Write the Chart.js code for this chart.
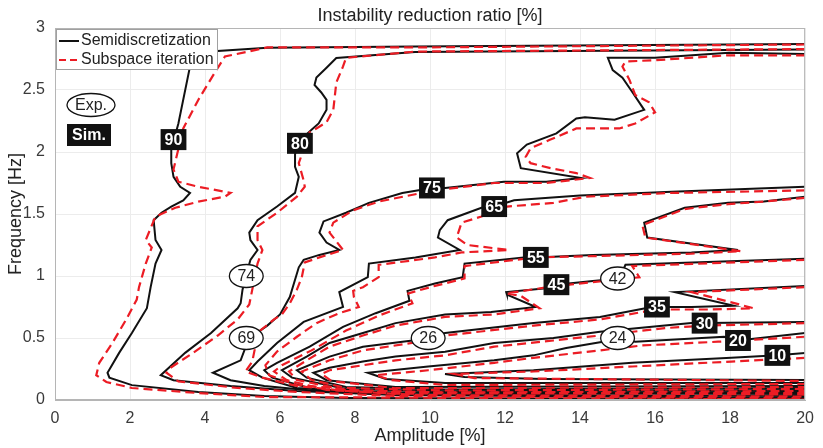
<!DOCTYPE html>
<html>
<head>
<meta charset="utf-8">
<script src="https://cdn.jsdelivr.net/npm/chart.js@4"></script>
<style>
  html, body { margin: 0; padding: 0; background: #fff; }
  #wrap { width: 823px; height: 448px; }
</style>
</head>
<body>
<div id="wrap"><canvas id="chart" width="823" height="448"></canvas></div>
<script>
// contour lines, [amplitude %, frequency Hz]
var levels = ["90", "80", "75", "65", "55", "45", "35", "30", "20", "10"];

var semi90 = [[20,2.87],[9.6,2.85],[5.66,2.84],[3.63,2.8],[3.6,2.69],[3.29,2.23],[3.1,2.02],[3.1,1.91],[3.16,1.8],[3.34,1.72],[3.6,1.67],[3.42,1.61],[3.1,1.56],[2.84,1.51],[2.63,1.45],[2.68,1.29],[2.84,1.21],[2.68,1.1],[2.55,0.91],[2.45,0.74],[2.05,0.54],[1.71,0.38],[1.4,0.22],[1.45,0.18],[2.05,0.12],[3.82,0.065],[5.58,0.032],[7.76,0.016],[20,0.006]];
var sub90 = [[20,2.867],[9.6,2.843],[5.66,2.843],[4.53,2.77],[4.26,2.64],[3.82,2.42],[3.42,2.19],[3.16,1.86],[3.29,1.76],[3.82,1.72],[4.68,1.67],[4.53,1.64],[3.82,1.6],[3.21,1.55],[2.68,1.48],[2.42,1.29],[2.58,1.23],[2.42,1.1],[2.24,0.91],[2.18,0.81],[1.9,0.65],[1.53,0.46],[1.18,0.3],[1.1,0.2],[1.37,0.145],[2.05,0.097],[3.82,0.056],[5.58,0.024],[20,0.004]];

var semi80 = [[20,2.826],[9.6,2.806],[7.5,2.758],[7.24,2.68],[6.97,2.6],[6.92,2.54],[7.1,2.48],[7.24,2.42],[7.24,2.34],[7.03,2.23],[6.84,2.18],[6.45,2.07],[6.4,1.98],[6.4,1.88],[6.5,1.8],[6.4,1.67],[5.92,1.56],[5.4,1.45],[5.18,1.35],[5.21,1.29],[5.4,1.21],[5.21,1.13],[5.08,0.99],[5.0,0.89],[4.95,0.78],[4.87,0.74],[4.16,0.54],[3.47,0.38],[2.82,0.2],[3.16,0.16],[4.68,0.113],[6.45,0.073],[9.08,0.04],[20,0.016]];
var sub80 = [[20,2.83],[9.6,2.81],[7.76,2.76],[7.68,2.69],[7.5,2.56],[7.45,2.42],[7.42,2.34],[7.24,2.24],[6.97,2.19],[6.79,2.16],[6.5,1.91],[6.63,1.77],[6.66,1.72],[6.45,1.64],[5.92,1.51],[5.4,1.4],[5.4,1.29],[5.53,1.21],[5.4,1.1],[5.26,0.89],[5.18,0.77],[4.87,0.65],[4.34,0.52],[3.68,0.38],[3.08,0.26],[2.97,0.22],[3.29,0.15],[4.87,0.097],[6.45,0.065],[9.08,0.032],[20,0.014]];

var semi75 = [[20,2.79],[17.97,2.8],[16.0,2.76],[14.74,2.76],[14.87,2.66],[15.13,2.6],[15.4,2.48],[15.71,2.34],[14.92,2.26],[14.13,2.28],[13.9,2.27],[13.37,2.15],[12.58,2.06],[12.32,1.99],[12.42,1.87],[14.03,1.79],[13.1,1.76],[11.97,1.76],[10.4,1.71],[10.05,1.71],[9.26,1.67],[8.37,1.59],[7.76,1.51],[7.16,1.44],[7.05,1.35],[7.24,1.27],[7.58,1.21],[7.05,1.17],[6.63,1.13],[6.5,1.07],[6.4,0.97],[6.26,0.83],[6.0,0.69],[5.66,0.6],[5.47,0.56],[5.08,0.51],[5.05,0.4],[4.95,0.32],[4.21,0.22],[4.68,0.16],[5.58,0.113],[6.97,0.073],[9.08,0.045],[20,0.032]];
var sub75 = [[20,2.78],[17.95,2.78],[16.0,2.74],[15.21,2.73],[15.13,2.69],[15.32,2.58],[15.47,2.46],[15.84,2.4],[16.0,2.32],[15.47,2.23],[15.05,2.19],[14.42,2.19],[13.9,2.19],[13.21,2.1],[12.68,2.03],[12.55,1.96],[12.68,1.91],[13.21,1.87],[13.9,1.83],[14.26,1.79],[13.1,1.75],[11.71,1.75],[10.4,1.7],[9.95,1.68],[8.63,1.6],[7.95,1.53],[7.42,1.43],[7.32,1.35],[7.68,1.21],[7.05,1.15],[6.66,1.11],[6.58,0.99],[6.45,0.89],[6.26,0.78],[6.05,0.69],[5.84,0.65],[5.47,0.56],[5.32,0.4],[5.26,0.31],[5.08,0.23],[5.53,0.18],[6.45,0.113],[7.76,0.073],[9.61,0.04],[20,0.028]];

var semi65 = [[20,1.72],[16.45,1.68],[14.0,1.65],[12.24,1.61],[11.71,1.56],[11.37,1.55],[10.47,1.45],[10.26,1.37],[10.21,1.31],[10.79,1.21],[9.61,1.15],[8.37,1.1],[8.34,0.99],[7.58,0.87],[7.68,0.75],[6.63,0.63],[5.92,0.46],[5.4,0.31],[5.18,0.24],[5.53,0.18],[6.45,0.097],[8.55,0.06],[20,0.048]];
var sub65 = [[20,1.69],[16.45,1.67],[14.16,1.64],[13.29,1.59],[12.05,1.56],[11.37,1.48],[10.84,1.43],[10.71,1.31],[11.0,1.25],[12.1,1.21],[10.84,1.19],[10.13,1.15],[8.63,1.09],[8.63,0.99],[8.21,0.91],[7.95,0.88],[7.97,0.83],[8.1,0.75],[7.58,0.7],[6.97,0.62],[6.45,0.51],[5.92,0.39],[5.61,0.28],[5.71,0.2],[6.45,0.121],[8.55,0.065],[20,0.044]];

var semi55 = [[20,1.64],[18.9,1.6],[17.95,1.59],[16.79,1.55],[15.71,1.43],[15.79,1.31],[18.21,1.21],[16.97,1.19],[14.34,1.17],[12.82,1.15],[12.5,1.15],[10.92,1.1],[10.87,0.99],[10.13,0.94],[9.4,0.88],[9.45,0.8],[8.55,0.7],[7.68,0.59],[6.79,0.43],[5.92,0.3],[5.58,0.24],[5.79,0.18],[6.97,0.081],[9.08,0.06],[20,0.065]];
var sub55 = [[20,1.63],[18.9,1.6],[17.95,1.58],[16.79,1.54],[15.66,1.41],[15.74,1.31],[18.29,1.2],[16.97,1.18],[14.34,1.16],[12.82,1.15],[10.92,1.08],[10.92,0.98],[10.13,0.92],[9.42,0.86],[9.53,0.78],[8.63,0.68],[7.76,0.56],[6.84,0.4],[6.05,0.28],[5.84,0.23],[6.18,0.16],[7.24,0.081],[9.08,0.052],[20,0.056]];

var semi45 = [[20,1.14],[15.21,1.09],[15.05,0.98],[14.34,0.96],[13.37,0.93],[13.03,0.9],[12.03,0.87],[12.05,0.85],[12.82,0.75],[11.63,0.71],[10.4,0.69],[9.08,0.62],[8.21,0.54],[7.32,0.46],[6.71,0.35],[6.05,0.24],[6.32,0.18],[7.76,0.089],[10.4,0.07],[20,0.081]];
var sub45 = [[20,1.13],[15.39,1.08],[15.58,0.99],[14.34,0.95],[13.37,0.92],[12.03,0.86],[12.42,0.84],[12.92,0.74],[11.71,0.69],[10.4,0.67],[9.08,0.6],[8.21,0.52],[7.32,0.43],[6.71,0.32],[6.24,0.23],[6.45,0.161],[7.76,0.081],[10.4,0.06],[20,0.073]];

var semi35 = [[20,0.92],[16.53,0.87],[18.1,0.76],[16.97,0.75],[16.05,0.75],[15.74,0.74],[14.53,0.67],[12.76,0.62],[10.4,0.54],[9.95,0.5],[9.53,0.48],[8.21,0.43],[7.32,0.35],[6.45,0.24],[6.71,0.18],[7.76,0.105],[10.4,0.085],[20,0.097]];
var sub35 = [[20,0.91],[16.97,0.87],[17.24,0.85],[18.63,0.74],[17.5,0.73],[16.05,0.73],[14.53,0.65],[12.76,0.6],[10.4,0.52],[9.95,0.48],[8.21,0.4],[7.32,0.32],[6.58,0.23],[6.84,0.161],[7.76,0.097],[10.4,0.077],[20,0.089]];

var semi30 = [[20,0.63],[17.32,0.62],[16.97,0.62],[16.26,0.6],[14.53,0.55],[13.29,0.5],[11.71,0.46],[10.4,0.39],[9.08,0.35],[8.21,0.31],[7.32,0.26],[6.89,0.22],[7.24,0.16],[9.08,0.105],[20,0.113]];
var sub30 = [[20,0.62],[17.32,0.6],[16.26,0.58],[14.53,0.52],[13.29,0.48],[11.71,0.43],[10.4,0.36],[9.08,0.32],[8.21,0.28],[7.32,0.24],[7.11,0.21],[7.37,0.153],[9.08,0.095],[20,0.105]];

var semi20 = [[20,0.54],[18.21,0.48],[17.84,0.51],[15.47,0.47],[15.03,0.5],[14.61,0.47],[13.63,0.42],[12.76,0.36],[11.71,0.32],[9.95,0.27],[8.34,0.22],[8.82,0.169],[10.4,0.137],[20,0.137]];
var sub20 = [[20,0.51],[17.68,0.47],[15.66,0.44],[14.53,0.4],[12.76,0.34],[11.71,0.3],[9.95,0.24],[8.55,0.2],[8.95,0.161],[10.4,0.121],[20,0.129]];

var semi10 = [[20,0.38],[19.26,0.36],[18.03,0.34],[15.39,0.3],[12.76,0.24],[10.4,0.21],[10.92,0.185],[13.03,0.169],[20,0.161]];
var sub10 = [[20,0.34],[18.03,0.31],[15.39,0.27],[12.76,0.23],[10.66,0.21],[11.18,0.177],[20,0.153]];

var semiLines = [semi90, semi80, semi75, semi65, semi55, semi45, semi35, semi30, semi20, semi10];
var subLines = [sub90, sub80, sub75, sub65, sub55, sub45, sub35, sub30, sub20, sub10];

// inline labels: simulation (black boxes) and experiment (ellipses)
var simText = ["90", "80", "75", "65", "55", "45", "35", "30", "20", "10"];
var simX = [3.16, 6.53, 10.05, 11.71, 12.82, 13.37, 16.05, 17.32, 18.21, 19.26];
var simY = [2.1, 2.07, 1.71, 1.56, 1.15, 0.93, 0.75, 0.62, 0.48, 0.36];
var expText = ["74", "69", "26", "42", "24"];
var expX = [5.1, 5.1, 9.95, 15.0, 15.0];
var expY = [1.0, 0.5, 0.5, 0.98, 0.5];

var xTicks = [0, 2, 4, 6, 8, 10, 12, 14, 16, 18, 20];
var yTicks = [0, 0.5, 1, 1.5, 2, 2.5, 3];

var FONT = "'Liberation Sans', Arial, Helvetica, sans-serif";
var TEXT = "#3a3a3a";
var BLACK = "#111111";
var RED = "#ec1c24";

function toPoints(pairs) {
  return pairs.map(function (p) {
    return { x: p[0], y: p[1] };
  });
}

function buildDatasets() {
  var sets = [];
  for (var i = 0; i < levels.length; i++) {
    sets.push({
      label: "Semidiscretization " + levels[i],
      data: toPoints(semiLines[i]),
      borderColor: BLACK,
      borderWidth: 2,
      showLine: true,
      pointRadius: 0,
      tension: 0,
      order: 1
    });
    sets.push({
      label: "Subspace iteration " + levels[i],
      data: toPoints(subLines[i]),
      borderColor: RED,
      borderWidth: 2.2,
      borderDash: [9, 5],
      showLine: true,
      pointRadius: 0,
      tension: 0,
      order: 0
    });
  }
  return sets;
}

function plainTick(value) {
  return String(value);
}

function drawBox(ctx, text, cx, cy) {
  ctx.font = "bold 16px " + FONT;
  var w = ctx.measureText(text).width + 8;
  var h = 21;
  ctx.fillStyle = "#111";
  ctx.fillRect(cx - w / 2, cy - h / 2, w, h);
  ctx.fillStyle = "#fff";
  ctx.textAlign = "center";
  ctx.textBaseline = "middle";
  ctx.fillText(text, cx, cy + 1);
}

function drawEllipse(ctx, text, cx, cy, rx) {
  ctx.font = "16px " + FONT;
  var r = rx || ctx.measureText(text).width / 2 + 8;
  ctx.beginPath();
  ctx.ellipse(cx, cy, r, 11.5, 0, 0, Math.PI * 2);
  ctx.fillStyle = "#fff";
  ctx.fill();
  ctx.lineWidth = 1.3;
  ctx.strokeStyle = "#111";
  ctx.stroke();
  ctx.fillStyle = "#222";
  ctx.textAlign = "center";
  ctx.textBaseline = "middle";
  ctx.fillText(text, cx, cy + 1);
}

var overlay = {
  id: "overlay",
  afterDatasetsDraw: function (chart) {
    var ctx = chart.ctx;
    var xs = chart.scales.x;
    var ys = chart.scales.y;
    var area = chart.chartArea;
    ctx.save();

    // box around the axes
    ctx.strokeStyle = "#b5b5b5";
    ctx.lineWidth = 1;
    ctx.strokeRect(area.left + 0.5, area.top + 0.5, area.right - area.left - 1, area.bottom - area.top - 1);

    for (var i = 0; i < simText.length; i++) {
      drawBox(ctx, simText[i], xs.getPixelForValue(simX[i]), ys.getPixelForValue(simY[i]));
    }
    for (var j = 0; j < expText.length; j++) {
      drawEllipse(ctx, expText[j], xs.getPixelForValue(expX[j]), ys.getPixelForValue(expY[j]));
    }

    // key for the label styles
    drawEllipse(ctx, "Exp.", area.left + 36, area.top + 77, 24);
    ctx.font = "bold 16px " + FONT;
    ctx.fillStyle = "#111";
    ctx.fillRect(area.left + 12, area.top + 96, 44, 22);
    ctx.fillStyle = "#fff";
    ctx.textAlign = "center";
    ctx.textBaseline = "middle";
    ctx.fillText("Sim.", area.left + 34, area.top + 108);

    // legend
    var lx = area.left + 1, ly = area.top + 1;
    ctx.fillStyle = "#fff";
    ctx.fillRect(lx, ly, 161, 40);
    ctx.strokeStyle = "#a0a0a0";
    ctx.lineWidth = 1;
    ctx.strokeRect(lx + 0.5, ly + 0.5, 161, 40);
    ctx.lineWidth = 2;
    ctx.strokeStyle = BLACK;
    ctx.beginPath();
    ctx.moveTo(lx + 3, ly + 12);
    ctx.lineTo(lx + 23, ly + 12);
    ctx.stroke();
    ctx.strokeStyle = RED;
    ctx.lineWidth = 2.2;
    ctx.setLineDash([7, 4]);
    ctx.beginPath();
    ctx.moveTo(lx + 3, ly + 31);
    ctx.lineTo(lx + 23, ly + 31);
    ctx.stroke();
    ctx.setLineDash([]);
    ctx.font = "16px " + FONT;
    ctx.fillStyle = "#222";
    ctx.textAlign = "left";
    ctx.textBaseline = "middle";
    ctx.fillText("Semidiscretization", lx + 25, ly + 12);
    ctx.fillText("Subspace iteration", lx + 25, ly + 31);

    // title
    ctx.font = "18px " + FONT;
    ctx.fillStyle = "#222";
    ctx.textAlign = "center";
    ctx.fillText("Instability reduction ratio [%]", (area.left + area.right) / 2, 16);
    ctx.restore();
  }
};

new Chart(document.getElementById("chart"), {
  type: "scatter",
  data: { datasets: buildDatasets() },
  plugins: [overlay],
  options: {
    responsive: false,
    animation: false,
    devicePixelRatio: 1,
    layout: { padding: { top: 28, right: 8, left: 0, bottom: 0 } },
    plugins: {
      legend: { display: false },
      tooltip: { enabled: false }
    },
    scales: {
      x: {
        type: "linear",
        min: 0,
        max: 20,
        afterBuildTicks: function (scale) {
          scale.ticks = xTicks.map(function (v) { return { value: v }; });
        },
        afterFit: function (scale) { scale.height = 48; },
        ticks: { color: TEXT, font: { size: 16, family: FONT }, padding: 9, maxRotation: 0, callback: plainTick },
        grid: { color: "#ececec", drawTicks: false },
        border: { color: "#b5b5b5" },
        title: { display: true, text: "Amplitude [%]", color: "#222", font: { size: 18, family: FONT }, padding: { top: 0, bottom: 1 } }
      },
      y: {
        type: "linear",
        min: 0,
        max: 3,
        afterBuildTicks: function (scale) {
          scale.ticks = yTicks.map(function (v) { return { value: v }; });
        },
        afterFit: function (scale) { scale.width = 55; },
        ticks: { color: TEXT, font: { size: 16, family: FONT }, padding: 10, callback: plainTick },
        grid: { color: "#ececec", drawTicks: false },
        border: { color: "#b5b5b5" },
        title: { display: true, text: "Frequency [Hz]", color: "#222", font: { size: 18, family: FONT }, padding: { top: 5, bottom: 0 } }
      }
    }
  }
});
</script>
</body>
</html>
